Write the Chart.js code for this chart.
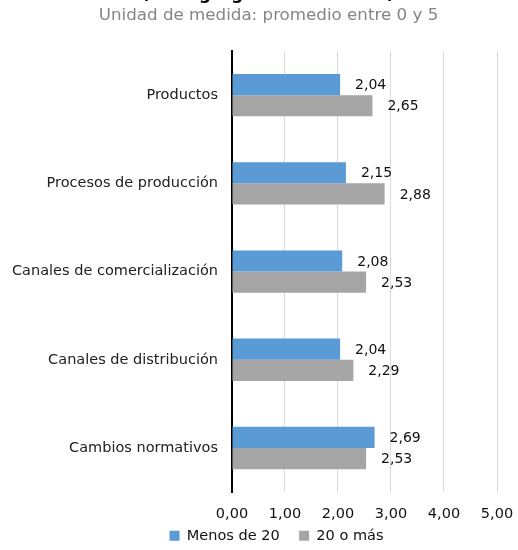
<!DOCTYPE html>
<html>
<head>
<meta charset="utf-8">
<script src="https://cdn.jsdelivr.net/npm/chart.js@4/dist/chart.umd.min.js"></script>
<style>
  html, body { margin: 0; padding: 0; background: #fff; overflow: hidden; }
  #wrap { width: 518px; height: 550px; position: relative; }
</style>
</head>
<body>
<div id="wrap"><canvas id="c" width="518" height="550"></canvas></div>
<script>
const titleText = "(Por agregado de tamaño)";
const subtitleText = "Unidad de medida: promedio entre 0 y 5";
const categories = ["Productos", "Procesos de producción", "Canales de comercialización", "Canales de distribución", "Cambios normativos"];
const seriesNames = ["Menos de 20", "20 o más"];
const menosDe20 = [2.04, 2.15, 2.08, 2.04, 2.69];
const veinteOMas = [2.65, 2.88, 2.53, 2.29, 2.53];
const xTickLabels = ["0,00", "1,00", "2,00", "3,00", "4,00", "5,00"];

const FONT = "'DejaVu Sans', sans-serif";

const cutTitle = {
  id: 'cutTitle',
  afterDraw(chart) {
    const ctx = chart.ctx;
    ctx.save();
    ctx.font = "bold 17px " + FONT;
    ctx.fillStyle = "#000";
    ctx.textAlign = "center";
    ctx.textBaseline = "alphabetic";
    ctx.fillText(titleText, 268, -1);
    ctx.restore();
  }
};

const boxShift = {
  id: 'boxShift',
  afterLayout(chart) {
    const lg = chart.legend;
    if (lg) { lg.left += 29; lg.right += 29; lg.top += 5; lg.bottom += 5; }
    chart.boxes.forEach(b => {
      if (b !== chart.legend && b.options && b.options.text === subtitleText) {
        b.left += 21; b.right += 21;
      }
    });
  }
};

const valueLabels = {
  id: 'valueLabels',
  afterDatasetsDraw(chart) {
    const ctx = chart.ctx;
    ctx.save();
    ctx.font = "14px " + FONT;
    ctx.fillStyle = "#111";
    ctx.textAlign = "left";
    ctx.textBaseline = "middle";
    chart.data.datasets.forEach((ds, di) => {
      const meta = chart.getDatasetMeta(di);
      meta.data.forEach((bar, i) => {
        const txt = ds.data[i].toFixed(2).replace('.', ',');
        ctx.fillText(txt, bar.x + 15, bar.y + 1);
      });
    });
    ctx.restore();
  }
};

new Chart(document.getElementById('c'), {
  type: 'bar',
  data: {
    labels: categories,
    datasets: [
      { label: seriesNames[0], data: menosDe20, backgroundColor: '#5B9BD5', borderWidth: 0 },
      { label: seriesNames[1], data: veinteOMas, backgroundColor: '#A5A5A5', borderWidth: 0 }
    ]
  },
  options: {
    indexAxis: 'y',
    responsive: false,
    animation: false,
    devicePixelRatio: 1,
    categoryPercentage: 0.48,
    barPercentage: 1.0,
    layout: { padding: { left: -2, right: 21, top: 0, bottom: 2 } },
    scales: {
      x: {
        min: 0, max: 5,
        ticks: {
          stepSize: 1,
          padding: 0,
          color: '#111',
          font: { family: FONT, size: 14.5 },
          callback: (v, i) => xTickLabels[i]
        },
        grid: {
          drawTicks: true,
          tickLength: 13,
          tickColor: 'rgba(0,0,0,0)',
          color: (c) => c.index === 0 ? 'rgba(0,0,0,0)' : '#d9d9d9',
          lineWidth: 1
        },
        border: { display: false }
      },
      y: {
        ticks: {
          padding: 14,
          color: '#222',
          font: { family: FONT, size: 14.5 }
        },
        grid: { display: false, drawTicks: false },
        border: { display: true, color: '#000', width: 2 }
      }
    },
    plugins: {
      legend: {
        position: 'bottom',
        labels: {
          boxWidth: 10,
          boxHeight: 10,
          padding: 1,
          color: '#111',
          font: { family: FONT, size: 14.5 },
          generateLabels: (chart) => {
            const items = Chart.defaults.plugins.legend.labels.generateLabels(chart);
            items.forEach((it, i) => { if (i < items.length - 1) it.text = it.text + '\u00A0\u00A0\u00A0\u00A0'; });
            return items;
          }
        }
      },
      subtitle: {
        display: true,
        text: subtitleText,
        color: '#858585',
        font: { family: FONT, size: 16.7, weight: 'normal' },
        padding: { top: 6, bottom: 25 }
      },
      title: { display: false },
      tooltip: { enabled: false }
    }
  },
  plugins: [cutTitle, valueLabels, boxShift]
});
</script>
</body>
</html>
